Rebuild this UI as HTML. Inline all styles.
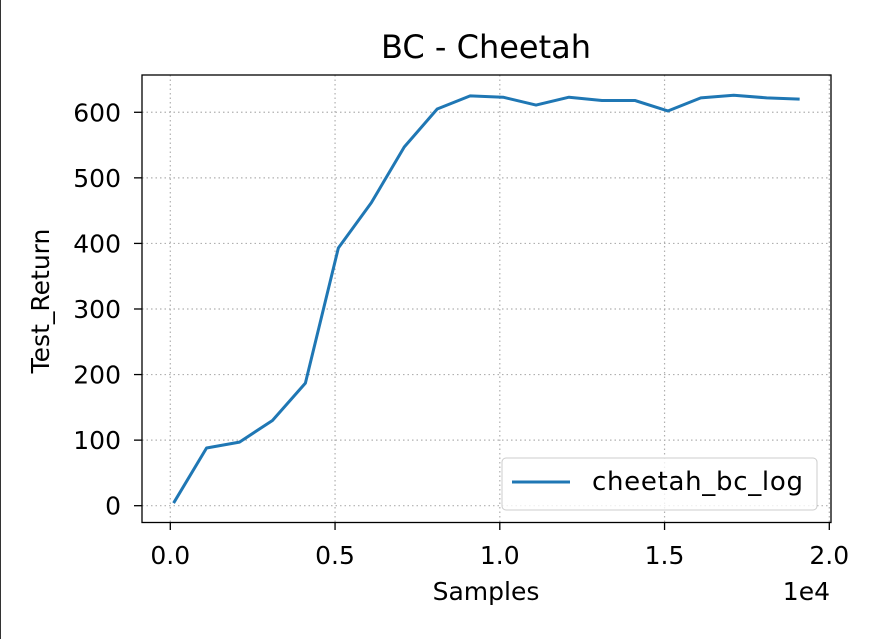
<!DOCTYPE html>
<html><head><meta charset="utf-8">
<style>
html,body{margin:0;padding:0;background:#fff;}
body{width:879px;height:639px;overflow:hidden;font-family:"DejaVu Sans","Liberation Sans",sans-serif;}
</style></head>
<body>
<svg id="chart" width="879" height="639" xmlns="http://www.w3.org/2000/svg" font-family="'DejaVu Sans','Liberation Sans',sans-serif">
<rect x="0" y="0" width="879" height="639" fill="#fff"/>
<line x1="0.5" y1="0" x2="0.5" y2="639" stroke="#333" stroke-width="1"/>
<g id="grid"></g>
<g id="ticks"></g>
<path id="line" fill="none" stroke="#1f77b4" stroke-width="3" stroke-linejoin="round"/>
<rect x="142" y="75" width="689" height="447.5" fill="none" stroke="#000" stroke-width="1.3"/>
<text x="486" y="58" font-size="32" text-anchor="middle">BC - Cheetah</text>
<text x="486" y="600" font-size="25" text-anchor="middle">Samples</text>
<text x="830" y="600" font-size="25" text-anchor="end">1e4</text>
<text transform="translate(49,301) rotate(-90)" font-size="25" text-anchor="middle">Test_Return</text>
<g>
<rect x="502" y="458" width="315" height="52" rx="4" fill="#fff" fill-opacity="0.8" stroke="#ccc"/>
<line x1="512" y1="482" x2="570" y2="482" stroke="#1f77b4" stroke-width="3"/>
<text x="592" y="490" font-size="26" textLength="211">cheetah_bc_log</text>
</g>
</svg>
<script>
const xSamples=[100,1100,2100,3100,4100,5100,6100,7100,8100,9100,10100,11100,12100,13100,14100,15100,16100,17100,18100,19100];
const yReturns=[4,88,97,130,187,393,462,547,605,625,623,611,623,618,618,602,622,626,622,620];
const xTicks=[0,0.5,1.0,1.5,2.0];
const xTickLabels=["0.0","0.5","1.0","1.5","2.0"];
const yTicks=[0,100,200,300,400,500,600];
function xs(v){return 170.3+v/10000*329.5;}
function ys(v){return 505.7-v*0.6557;}
const ns="http://www.w3.org/2000/svg";
const grid=document.getElementById('grid'),ticks=document.getElementById('ticks');
function mk(tag,attrs,parent){const e=document.createElementNS(ns,tag);for(const k in attrs)e.setAttribute(k,attrs[k]);parent.appendChild(e);return e;}
xTicks.forEach((t,i)=>{const x=xs(t*10000);
 const g=mk('line',{x1:x,x2:x,y1:75,y2:522,stroke:'#b0b0b0','stroke-width':1.2,'stroke-dasharray':'1.5,3'},grid);
 
 
 mk('line',{x1:x,x2:x,y1:522,y2:530,stroke:'#000','stroke-width':1.3},ticks);
 const l=mk('text',{x:x,y:564,'font-size':25,'text-anchor':'middle'},ticks);l.textContent=xTickLabels[i];
 
 
});
yTicks.forEach(t=>{const y=ys(t);
 const g=mk('line',{x1:142,x2:831,y1:y,y2:y,stroke:'#b0b0b0','stroke-width':1.2,'stroke-dasharray':'1.5,3'},grid);
 
 
 mk('line',{x1:134,x2:142,y1:y,y2:y,stroke:'#000','stroke-width':1.3},ticks);
 const l=mk('text',{x:121,y:y+9,'font-size':25,'text-anchor':'end'},ticks);l.textContent=t;
 
 
});
document.getElementById('line').setAttribute('d',xSamples.map((x,i)=>(i?'L':'M')+xs(x)+','+ys(yReturns[i])).join(' '));
</script>
</body></html>
